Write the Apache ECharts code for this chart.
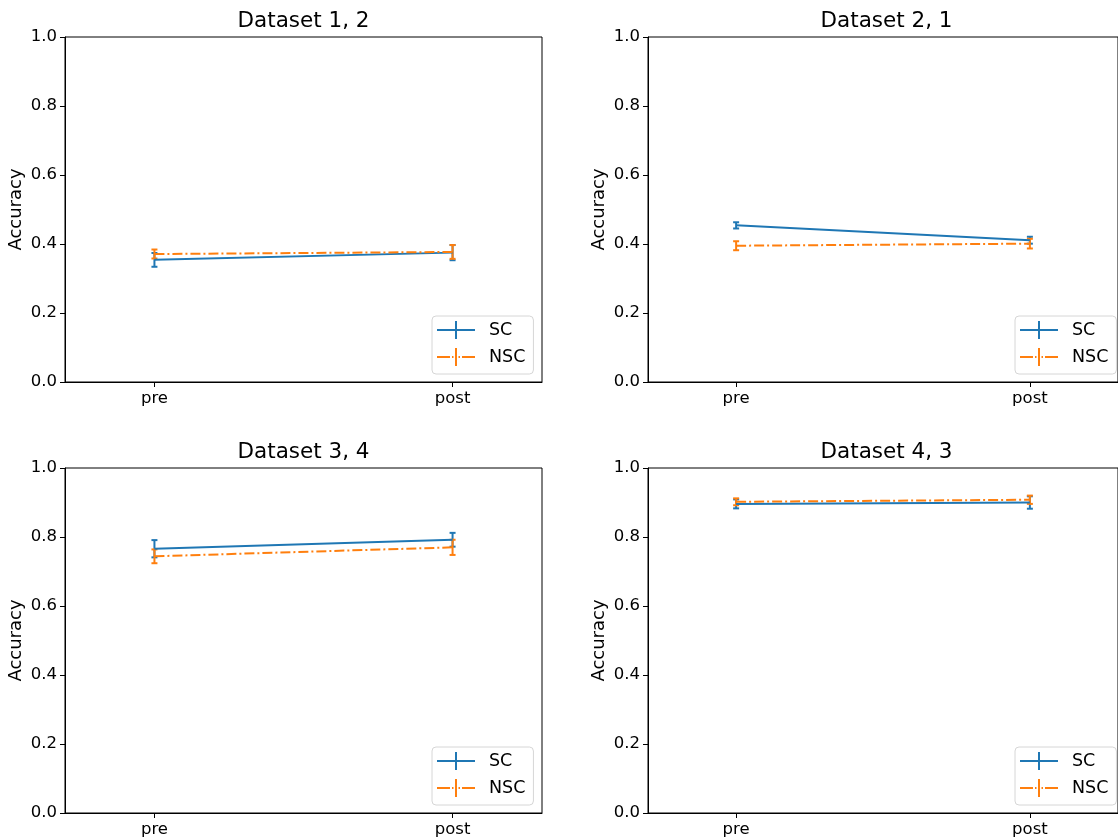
<!DOCTYPE html>
<html>
<head>
<meta charset="utf-8">
<script src="https://cdn.jsdelivr.net/npm/echarts@6/dist/echarts.min.js"></script>
<style>
  html, body { margin: 0; padding: 0; background: #fff; }
  #chart { width: 1118px; height: 839px; }
</style>
</head>
<body>
<div id="chart"></div>
<script>
// Accuracy before / after, four dataset pairs
const categories = ['pre', 'post'];
const titles = ['Dataset 1, 2', 'Dataset 2, 1', 'Dataset 3, 4', 'Dataset 4, 3'];
const yTicks = [0, 0.2, 0.4, 0.6, 0.8, 1.0];

// mean accuracy per panel: [pre, post]
const scMean = [[0.354, 0.375], [0.454, 0.411], [0.766, 0.792], [0.896, 0.900]];
const nscMean = [[0.371, 0.377], [0.395, 0.401], [0.744, 0.770], [0.902, 0.908]];
// half-width of the error bars
const scErr = [[0.020, 0.022], [0.009, 0.010], [0.025, 0.020], [0.013, 0.018]];
const nscErr = [[0.013, 0.020], [0.013, 0.014], [0.020, 0.022], [0.010, 0.012]];

const SC_COLOR = '#1f77b4';
const NSC_COLOR = '#ff7f0e';
const FONT = 'DejaVu Sans';

const panels = [
  { left: 65, top: 37 },
  { left: 648, top: 37 },
  { left: 65, top: 468 },
  { left: 648, top: 468 }
];
const W = 477, H = 345;

function errorBarRenderer(color) {
  return function (params, api) {
    const x = api.value(0);
    const lo = api.coord([x, api.value(1)]);
    const hi = api.coord([x, api.value(2)]);
    const cap = 3;
    const style = { stroke: color, lineWidth: 2 };
    return {
      type: 'group',
      children: [
        { type: 'line', shape: { x1: lo[0], y1: lo[1], x2: hi[0], y2: hi[1] }, style },
        { type: 'line', shape: { x1: lo[0] - cap, y1: lo[1], x2: lo[0] + cap, y2: lo[1] }, style },
        { type: 'line', shape: { x1: hi[0] - cap, y1: hi[1], x2: hi[0] + cap, y2: hi[1] }, style }
      ]
    };
  };
}

const SC_ICON = 'path://M0,8h38v2H0z M18,0h2v18h-2z';
const NSC_ICON = 'path://M0,8h13v2H0z M15,8h1.5v2H15z M18,0h2v18h-2z M21.5,8h1.5v2h-1.5z M25,8h13v2H25z';

const grid = [], xAxis = [], yAxis = [], series = [], title = [], legend = [];

panels.forEach((p, i) => {
  grid.push({
    left: p.left, top: p.top, width: W, height: H,
    show: true, borderColor: '#000', borderWidth: 1, backgroundColor: 'transparent'
  });
  title.push({
    text: titles[i],
    left: p.left + W / 2, top: p.top - 27, textAlign: 'center', padding: 0,
    textStyle: { fontFamily: FONT, fontSize: 21.5, fontWeight: 'normal', color: '#000' }
  });
  xAxis.push({
    gridIndex: i, type: 'value', min: -0.3, max: 1.3,
    splitLine: { show: false },
    axisLine: { show: true, onZero: false, lineStyle: { color: '#000', width: 1 } },
    axisTick: { show: true, customValues: [0, 1], length: 5, lineStyle: { color: '#000' } },
    axisLabel: {
      customValues: [0, 1], margin: 8,
      formatter: v => categories[Math.round(v)],
      fontFamily: FONT, fontSize: 16.5, color: '#000'
    }
  });
  yAxis.push({
    gridIndex: i, type: 'value', min: 0, max: 1,
    name: 'Accuracy', nameLocation: 'middle', nameRotate: 90, nameGap: 40,
    nameTextStyle: { fontFamily: FONT, fontSize: 18, color: '#000' },
    splitLine: { show: false },
    axisLine: { show: true, onZero: false, lineStyle: { color: '#000', width: 1 } },
    axisTick: { show: true, customValues: yTicks, length: 5, lineStyle: { color: '#000' } },
    axisLabel: {
      customValues: yTicks, margin: 8,
      formatter: v => v.toFixed(1),
      fontFamily: FONT, fontSize: 16.5, color: '#000'
    }
  });

  const groups = [
    { name: 'SC', mean: scMean[i], err: scErr[i], color: SC_COLOR, type: 'solid' },
    { name: 'NSC', mean: nscMean[i], err: nscErr[i], color: NSC_COLOR, type: [10, 3, 2, 3] }
  ];
  groups.forEach(g => {
    series.push({
      name: g.name, type: 'line', xAxisIndex: i, yAxisIndex: i,
      data: g.mean.map((v, k) => [k, v]),
      symbol: 'none', color: g.color, animation: false,
      lineStyle: { color: g.color, width: 2, type: g.type }
    });
    series.push({
      name: g.name, type: 'custom', xAxisIndex: i, yAxisIndex: i,
      data: g.mean.map((v, k) => [k, v - g.err[k], v + g.err[k]]),
      encode: { x: 0, y: [1, 2] },
      renderItem: errorBarRenderer(g.color), animation: false, z: 3
    });
  });

  legend.push({
    orient: 'vertical',
    left: p.left + 367, top: p.top + 279,
    padding: [5, 8, 8, 5], itemGap: 9, itemWidth: 38, itemHeight: 18,
    backgroundColor: '#fff', borderColor: '#d6d6d6', borderWidth: 1, borderRadius: 4,
    textStyle: { fontFamily: FONT, fontSize: 17.5, color: '#000', padding: [0, 0, 0, 9] },
    data: [
      { name: 'SC', icon: SC_ICON, itemStyle: { color: SC_COLOR } },
      { name: 'NSC', icon: NSC_ICON, itemStyle: { color: NSC_COLOR } }
    ]
  });
});

const chart = echarts.init(document.getElementById('chart'), null, { renderer: 'canvas' });
chart.setOption({
  backgroundColor: '#fff',
  animation: false,
  title, grid, xAxis, yAxis, legend, series
});
</script>
</body>
</html>
